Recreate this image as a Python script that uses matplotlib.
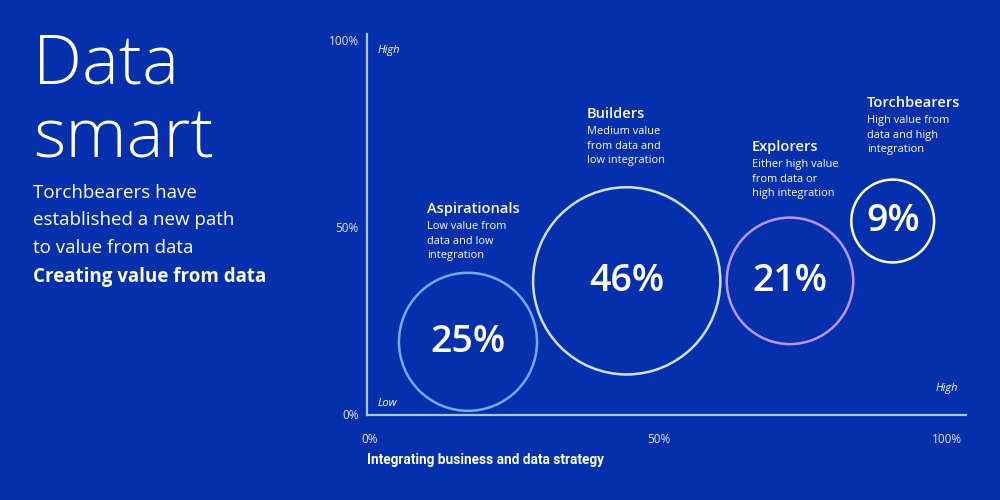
import matplotlib
matplotlib.use("Agg")
import matplotlib.pyplot as plt

# ---- data ----
segments = ["Aspirationals", "Builders", "Explorers", "Torchbearers"]
shares = [25, 46, 21, 9]                       # % of organisations (bubble size)
x_integration = [17.0, 44.5, 72.8, 90.6]       # Integrating business and data strategy (%)
y_value = [19.3, 35.6, 35.6, 51.6]             # Value from data (%)
descriptions = [
    "Low value from\ndata and low\nintegration",
    "Medium value\nfrom data and\nlow integration",
    "Either high value\nfrom data or\nhigh integration",
    "High value from\ndata and high\nintegration",
]
edge_colors = ["#78a9ff", "#d0e2ff", "#be95ff", "#ffffff"]
x_ticks = [0, 50, 100]
y_ticks = [0, 50, 100]
tick_labels = ["0%", "50%", "100%"]

BG = "#0530ad"
AX_COL = "#a6c8ff"
TXT = "#ffffff"
SOFT = "#e4eaff"
FONT = ["Open Sans", "DejaVu Sans"]
NARROW = ["Roboto", "DejaVu Sans"]

W, H = 1000, 500
fig = plt.figure(figsize=(10, 5), dpi=100, facecolor=BG)

def fx(px):
    return px / W

def fy(py):
    return 1 - py / H

ax = fig.add_axes([fx(367), fy(415), fx(966) - fx(367), fy(34) - fy(415)])
ax.set_facecolor(BG)
ax.set_xlim(-0.5, 103.3)
ax.set_ylim(-0.27, 101.6)

for s in ["top", "right"]:
    ax.spines[s].set_visible(False)
for s in ["left", "bottom"]:
    ax.spines[s].set_color(AX_COL)
    ax.spines[s].set_linewidth(1.6)

ax.set_xticks(x_ticks)
ax.set_xticklabels(tick_labels)
ax.set_yticks(y_ticks)
ax.set_yticklabels(tick_labels)
ax.tick_params(axis="both", length=0, colors=SOFT, labelsize=8.5)
ax.tick_params(axis="x", pad=13)
ax.tick_params(axis="y", pad=6)
for lab in ax.get_xticklabels() + ax.get_yticklabels():
    lab.set_family(FONT)

# bubbles
k = 395
ax.scatter(x_integration, y_value, s=[v * k for v in shares],
           facecolors="none", edgecolors=edge_colors, linewidths=1.8, zorder=3)

for xv, yv, v in zip(x_integration, y_value, shares):
    ax.text(xv, yv, f"{v}%", ha="center", va="center", color=TXT,
            fontsize=27, fontweight="semibold", family=FONT, zorder=4)

# segment labels (pixel positions of label blocks)
label_pos = [(427, 209), (587, 114), (752, 147), (867, 103)]
for (lx, ly), name, desc in zip(label_pos, segments, descriptions):
    fig.text(fx(lx), fy(ly), name, ha="left", va="center", color=TXT,
             fontsize=10.5, fontweight="semibold", family=FONT)
    fig.text(fx(lx), fy(ly + 12), desc, ha="left", va="top", color=TXT,
             fontsize=7.9, family=FONT, linespacing=1.45)

# axis end labels
fig.text(fx(378), fy(51), "High", ha="left", va="center", color=TXT,
         fontsize=8, style="italic", family=FONT)
fig.text(fx(378), fy(403), "Low", ha="left", va="center", color=TXT,
         fontsize=8, style="italic", family=FONT)
fig.text(fx(958), fy(388), "High", ha="right", va="center", color=TXT,
         fontsize=8, style="italic", family=FONT)

# x axis title
fig.text(fx(367), fy(460), "Integrating business and data strategy", ha="left",
         va="center", color=TXT, fontsize=9.8, fontweight="bold", family=NARROW)

# left panel text
fig.text(fx(33), fy(83), "Data", ha="left", va="baseline", color=TXT,
         fontsize=50, fontweight="light", family=FONT)
fig.text(fx(33), fy(157), "smart", ha="left", va="baseline", color=TXT,
         fontsize=50, fontweight="light", family=FONT)
fig.text(fx(33), fy(193), "Torchbearers have", ha="left", va="center",
         color=TXT, fontsize=13.5, family=FONT)
fig.text(fx(33), fy(220), "established a new path", ha="left", va="center",
         color=TXT, fontsize=13.5, family=FONT)
fig.text(fx(33), fy(248), "to value from data", ha="left", va="center",
         color=TXT, fontsize=13.5, family=FONT)
fig.text(fx(33), fy(277), "Creating value from data", ha="left", va="center",
         color=TXT, fontsize=13.5, fontweight="bold", family=FONT)

fig.savefig("out.png", dpi=100, facecolor=BG)
